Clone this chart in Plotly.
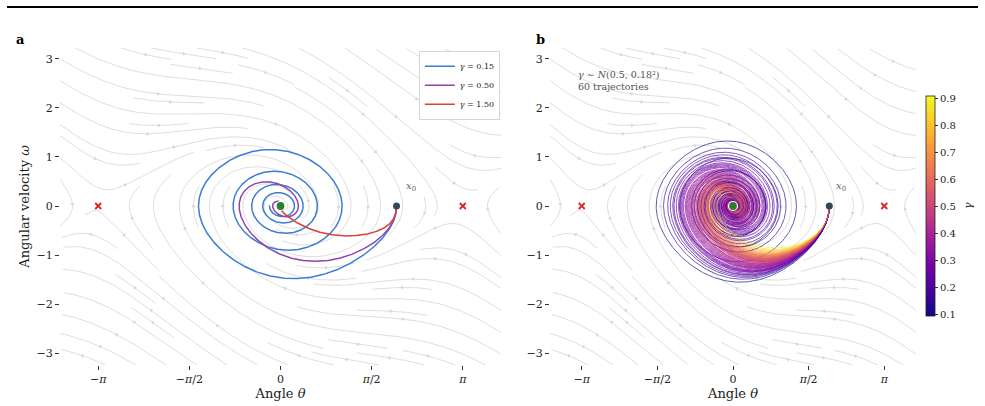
import numpy as np
import plotly.graph_objects as go
from plotly.colors import sample_colorscale

# ---------------- data ----------------
THETA0 = 2.0
OMEGA0 = 0.0
GAMMA_SINGLE = [0.15, 0.50, 1.50]
COLORS_SINGLE = ["#3a7dd6", "#8e44ad", "#d7433b"]
GAMMA_ENSEMBLE = [
    0.093, 0.908, 0.52, 0.47, 0.61, 0.38, 0.55, 0.29, 0.44, 0.66,
    0.50, 0.72, 0.35, 0.58, 0.41, 0.49, 0.63, 0.27, 0.54, 0.46,
    0.81, 0.33, 0.57, 0.43, 0.69, 0.51, 0.24, 0.60, 0.39, 0.48,
    0.75, 0.31, 0.53, 0.14, 0.67, 0.19, 0.56, 0.42, 0.78, 0.36,
    0.50, 0.64, 0.28, 0.17, 0.59, 0.40, 0.85, 0.34, 0.55, 0.44,
    0.70, 0.22, 0.52, 0.37, 0.62, 0.26, 0.30, 0.57, 0.21, 0.65,
]
FIELD_GAMMA = 0.5
T_END = 30.0
SADDLES = [-np.pi, np.pi]
X_TICKS = [-np.pi, -np.pi / 2, 0, np.pi / 2, np.pi]
X_TICK_TEXT = ["−<i>π</i>", "−<i>π</i>/2", "0", "<i>π</i>/2", "<i>π</i>"]
Y_TICKS = [-3, -2, -1, 0, 1, 2, 3]
CB_TICKS = [0.1, 0.2, 0.3, 0.4, 0.5, 0.6, 0.7, 0.8, 0.9]
XLIM = [-3.8, 3.8]
YLIM = [-3.24, 3.22]
CMIN, CMAX = 0.093, 0.908

W_PX, H_PX = 985, 406
L_DOM = [60 / W_PX, 501 / W_PX]
R_DOM = [550 / W_PX, 916 / W_PX]
Y_DOM = [(H_PX - 365) / H_PX, (H_PX - 48) / H_PX]
FONT = "DejaVu Serif"


# ---------------- model ----------------
def field(th, om, g):
    return om, -np.sin(th) - g * om


def simulate(gammas, dt=0.01, t_end=T_END):
    g = np.asarray(gammas, float)
    th = np.full_like(g, THETA0)
    om = np.full_like(g, OMEGA0)
    n = int(t_end / dt)
    TH = [th.copy()]
    OM = [om.copy()]
    for _ in range(n):
        k1 = field(th, om, g)
        k2 = field(th + 0.5 * dt * k1[0], om + 0.5 * dt * k1[1], g)
        k3 = field(th + 0.5 * dt * k2[0], om + 0.5 * dt * k2[1], g)
        k4 = field(th + dt * k3[0], om + dt * k3[1], g)
        th = th + dt / 6 * (k1[0] + 2 * k2[0] + 2 * k3[0] + k4[0])
        om = om + dt / 6 * (k1[1] + 2 * k2[1] + 2 * k3[1] + k4[1])
        TH.append(th.copy())
        OM.append(om.copy())
    return np.array(TH).T, np.array(OM).T


def gen_start(n):
    xfirst, yfirst, xlast, ylast = 0, 1, n - 1, n - 1
    x, y = 0, 0
    d = "right"
    for _ in range(n * n):
        yield x, y
        if d == "right":
            x += 1
            if x >= xlast:
                xlast -= 1
                d = "up"
        elif d == "up":
            y += 1
            if y >= ylast:
                ylast -= 1
                d = "left"
        elif d == "left":
            x -= 1
            if x <= xfirst:
                xfirst += 1
                d = "down"
        else:
            y -= 1
            if y <= yfirst:
                yfirst += 1
                d = "right"


def streamlines(xlim, ylim, n=30, ds=0.008, maxlen=4.0, minlen=0.1):
    W = xlim[1] - xlim[0]
    H = ylim[1] - ylim[0]
    mask = np.zeros((n, n), dtype=int)

    def tm(a, b):
        return int(round(a * (n - 1))), int(round(b * (n - 1)))

    def vel(a, b, s):
        u, v = field(xlim[0] + a * W, ylim[0] + b * H, FIELD_GAMMA)
        ua, vb = u / W, v / H
        sp = np.hypot(ua, vb)
        if sp < 1e-9:
            return None
        return s * ua / sp, s * vb / sp

    def integ(a, b, s, cells):
        pts = []
        length = 0.0
        cur = tm(a, b)
        while length + ds <= maxlen:
            k1 = vel(a, b, s)
            if k1 is None:
                break
            am, bm = a + 0.5 * ds * k1[0], b + 0.5 * ds * k1[1]
            if not (0 <= am <= 1 and 0 <= bm <= 1):
                break
            k2 = vel(am, bm, s)
            if k2 is None:
                break
            an, bn = a + ds * k2[0], b + ds * k2[1]
            if not (0 <= an <= 1 and 0 <= bn <= 1):
                break
            c = tm(an, bn)
            if c != cur:
                if mask[c[1], c[0]]:
                    break
                mask[c[1], c[0]] = 1
                cells.append(c)
                cur = c
            a, b = an, bn
            pts.append((a, b))
            length += ds
        return pts, length

    lines = []
    for xm, ym in gen_start(n):
        if mask[ym, xm]:
            continue
        a0, b0 = xm / (n - 1), ym / (n - 1)
        cells = [(xm, ym)]
        mask[ym, xm] = 1
        back, l1 = integ(a0, b0, -1, cells)
        fwd, l2 = integ(a0, b0, 1, cells)
        if l1 + l2 < minlen:
            for c in cells:
                mask[c[1], c[0]] = 0
            continue
        pts = back[::-1] + [(a0, b0)] + fwd
        arr = np.array(pts)
        lines.append(np.column_stack([xlim[0] + arr[:, 0] * W, ylim[0] + arr[:, 1] * H]))
    return lines


SL = streamlines(XLIM, YLIM)

fig = go.Figure()


def add_streams(xa, ya, dom):
    sx = (dom[1] - dom[0]) * W_PX / (XLIM[1] - XLIM[0])
    sy = (Y_DOM[1] - Y_DOM[0]) * H_PX / (YLIM[1] - YLIM[0])
    xs, ys, ax_, ay_, ang = [], [], [], [], []
    for L in SL:
        xs += list(L[:, 0]) + [None]
        ys += list(L[:, 1]) + [None]
        seg = np.hypot(np.diff(L[:, 0]), np.diff(L[:, 1]))
        s = np.cumsum(seg)
        if len(s) < 2:
            continue
        k = int(np.searchsorted(s, s[-1] / 2.0))
        k = min(k, len(L) - 2)
        dx = (L[k + 1, 0] - L[k, 0]) * sx
        dy = (L[k + 1, 1] - L[k, 1]) * sy
        ax_.append(0.5 * (L[k, 0] + L[k + 1, 0]))
        ay_.append(0.5 * (L[k, 1] + L[k + 1, 1]))
        ang.append(float(np.degrees(np.arctan2(dx, dy))))
    fig.add_trace(go.Scatter(x=xs, y=ys, mode="lines", xaxis=xa, yaxis=ya,
                             line=dict(color="#dedede", width=1.0),
                             hoverinfo="skip", showlegend=False))
    fig.add_trace(go.Scatter(x=ax_, y=ay_, mode="markers", xaxis=xa, yaxis=ya,
                             marker=dict(symbol="triangle-up", size=3.5, angle=ang,
                                         color="#d4d4d4", line=dict(width=0)),
                             hoverinfo="skip", showlegend=False))


add_streams("x", "y", L_DOM)
add_streams("x2", "y2", R_DOM)

# left panel trajectories
TH1, OM1 = simulate(GAMMA_SINGLE)
for i, g in enumerate(GAMMA_SINGLE):
    fig.add_trace(go.Scatter(x=TH1[i], y=OM1[i], mode="lines", xaxis="x", yaxis="y",
                             line=dict(color=COLORS_SINGLE[i], width=1.5),
                             name=f"<i>γ</i> = {g:.2f}"))

# right panel ensemble
TH2, OM2 = simulate(GAMMA_ENSEMBLE)
for i, g in enumerate(GAMMA_ENSEMBLE):
    c = sample_colorscale("Plasma", [(g - CMIN) / (CMAX - CMIN)])[0]
    fig.add_trace(go.Scatter(x=TH2[i], y=OM2[i], mode="lines", xaxis="x2", yaxis="y2",
                             line=dict(color=c, width=1.0), opacity=0.65,
                             hoverinfo="skip", showlegend=False))

# colorbar carrier
fig.add_trace(go.Scatter(x=[None], y=[None], mode="markers", xaxis="x2", yaxis="y2",
                         showlegend=False, hoverinfo="skip",
                         marker=dict(color=[0.5], colorscale="Plasma", cmin=CMIN, cmax=CMAX,
                                     showscale=True,
                                     colorbar=dict(x=925.7 / W_PX, xanchor="left", y=0.4926,
                                                   yanchor="middle", len=220 / H_PX,
                                                   thickness=9, outlinewidth=0.8,
                                                   outlinecolor="#222", ticks="outside",
                                                   ticklen=3, tickcolor="#333",
                                                   tickvals=CB_TICKS,
                                                   ticktext=[f"{v:.1f}" for v in CB_TICKS],
                                                   tickfont=dict(family=FONT, size=10, color="#222"),
                                                   xpad=0, ypad=0))))

# markers
for xa, ya in [("x", "y"), ("x2", "y2")]:
    fig.add_trace(go.Scatter(x=SADDLES, y=[0, 0], mode="markers", xaxis=xa, yaxis=ya,
                             marker=dict(symbol="x-thin", size=6, line=dict(width=1.8, color="#d62728")),
                             showlegend=False, hoverinfo="skip"))
    fig.add_trace(go.Scatter(x=[0], y=[0], mode="markers", xaxis=xa, yaxis=ya,
                             marker=dict(size=9, color="#2e7d32", line=dict(width=1.2, color="white")),
                             showlegend=False, hoverinfo="skip"))
    fig.add_trace(go.Scatter(x=[THETA0], y=[OMEGA0], mode="markers", xaxis=xa, yaxis=ya,
                             marker=dict(size=7, color="#37474f"),
                             showlegend=False, hoverinfo="skip"))

axis_common = dict(showgrid=False, zeroline=False, showline=False, ticks="outside",
                   ticklen=4, tickcolor="#333", tickwidth=1,
                   tickfont=dict(family=FONT, size=11, color="#222"))

fig.update_layout(
    width=W_PX, height=H_PX, margin=dict(l=0, r=0, t=0, b=0),
    paper_bgcolor="white", plot_bgcolor="white",
    font=dict(family=FONT, color="#222"),
    xaxis=dict(domain=L_DOM, range=XLIM, anchor="y", tickvals=X_TICKS, ticktext=X_TICK_TEXT,
               title=dict(text="Angle <i>θ</i>", font=dict(size=13, family=FONT), standoff=2),
               **axis_common),
    yaxis=dict(domain=Y_DOM, range=YLIM, anchor="x", tickvals=Y_TICKS,
               ticktext=[("−" if v < 0 else "") + str(abs(v)) for v in Y_TICKS],
               title=dict(text="Angular velocity <i>ω</i>", font=dict(size=13, family=FONT), standoff=4),
               **axis_common),
    xaxis2=dict(domain=R_DOM, range=XLIM, anchor="y2", tickvals=X_TICKS, ticktext=X_TICK_TEXT,
                title=dict(text="Angle <i>θ</i>", font=dict(size=13, family=FONT), standoff=2),
                **axis_common),
    yaxis2=dict(domain=Y_DOM, range=YLIM, anchor="x2", tickvals=Y_TICKS,
                ticktext=[("−" if v < 0 else "") + str(abs(v)) for v in Y_TICKS],
                **axis_common),
    legend=dict(x=500 / W_PX, xanchor="right", y=(H_PX - 51) / H_PX, yanchor="top",
                bgcolor="white", bordercolor="#cccccc", borderwidth=0.8,
                font=dict(family=FONT, size=8, color="#222"), itemwidth=30, tracegroupgap=0),
    shapes=[dict(type="line", xref="paper", yref="paper", x0=7 / W_PX, x1=978 / W_PX,
                 y0=(H_PX - 7) / H_PX, y1=(H_PX - 7) / H_PX, line=dict(color="black", width=2))],
    annotations=[
        dict(text="<b>a</b>", xref="paper", yref="paper", x=14 / W_PX, y=(H_PX - 40) / H_PX,
             xanchor="left", yanchor="middle", showarrow=False, font=dict(family=FONT, size=13, color="black")),
        dict(text="<b>b</b>", xref="paper", yref="paper", x=534 / W_PX, y=(H_PX - 40) / H_PX,
             xanchor="left", yanchor="middle", showarrow=False, font=dict(family=FONT, size=13, color="black")),
        dict(text="<i>x</i><sub>0</sub>", xref="x", yref="y", x=2.25, y=0.4, showarrow=False,
             font=dict(family=FONT, size=10, color="#666")),
        dict(text="<i>x</i><sub>0</sub>", xref="x2", yref="y2", x=2.25, y=0.4, showarrow=False,
             font=dict(family=FONT, size=10, color="#666")),
        dict(text="<i>γ</i> ∼ <i>N</i>(0.5, 0.18²)<br>60 trajectories", xref="paper", yref="paper",
             x=576 / W_PX, y=(H_PX - 67) / H_PX, xanchor="left", yanchor="top", align="left",
             showarrow=False, font=dict(family=FONT, size=9.5, color="#555")),
        dict(text="<i>γ</i>", xref="paper", yref="paper", x=969 / W_PX, y=(H_PX - 206) / H_PX,
             xanchor="center", yanchor="middle", textangle=-90, showarrow=False,
             font=dict(family=FONT, size=11, color="#222")),
    ],
)

fig.write_html("out.html")
